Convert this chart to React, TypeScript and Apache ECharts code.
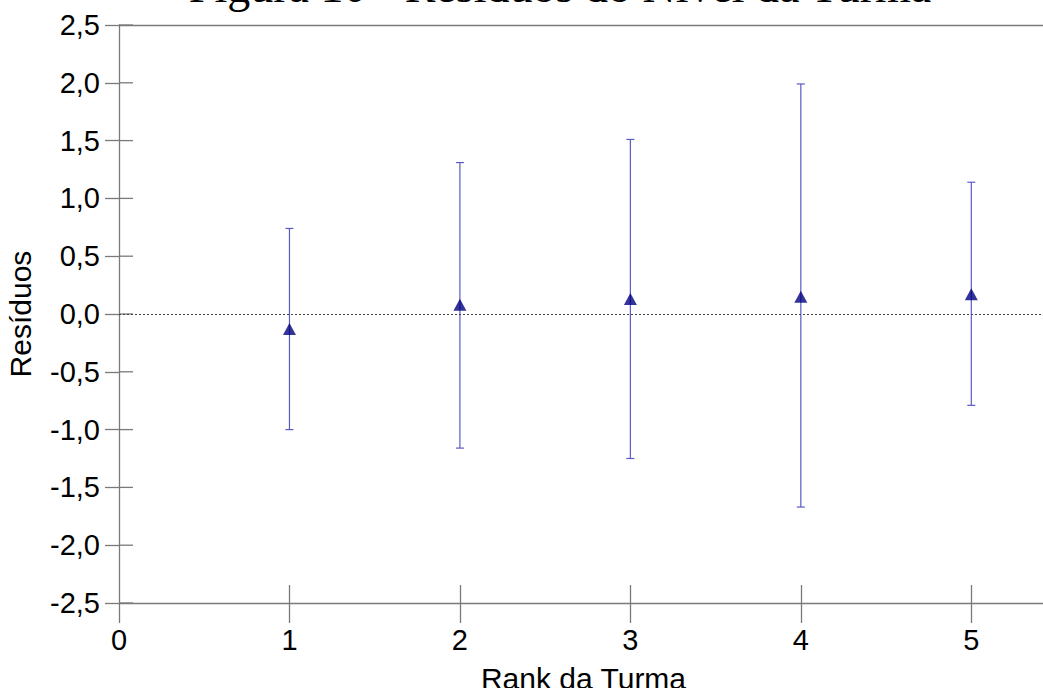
import React, { useEffect, useRef } from "react";
import * as echarts from "echarts";

const ranks = [1, 2, 3, 4, 5];
const residuals = [-0.13, 0.08, 0.13, 0.15, 0.17];
const upper = [0.74, 1.31, 1.51, 1.99, 1.14];
const lower = [-1.0, -1.16, -1.25, -1.67, -0.79];
const xTicks = [0, 1, 2, 3, 4, 5];
const yTicks = [-2.5, -2.0, -1.5, -1.0, -0.5, 0, 0.5, 1.0, 1.5, 2.0, 2.5];
const titleText = "Figura 10 - Resíduos do Nível da Turma";

export default function App() {
  const ref = useRef<HTMLDivElement>(null);
  useEffect(() => {
    document.body.style.margin = "0";
    const chart = echarts.init(ref.current!, null, { renderer: "svg" });
    const font = "'Liberation Sans', Arial, sans-serif";
    const axisColor = "#7a7a7a";
    const errData = ranks.map((r, i) => [r, lower[i], upper[i]]);
    const pts = ranks.map((r, i) => [r, residuals[i]]);
    chart.setOption({
      animation: false,
      backgroundColor: "#ffffff",
      grid: { left: 119, top: 25, bottom: 85, right: -5, containLabel: false, outerBoundsMode: "none" },
      graphic: [
        {
          type: "text",
          x: 560,
          y: 9,
          style: {
            text: titleText,
            fontFamily: "'Liberation Serif', 'Times New Roman', serif",
            fontSize: 46,
            fill: "#000",
            align: "center",
            verticalAlign: "bottom",
          },
        },
      ],
      xAxis: [
        {
          type: "value",
          min: 0,
          max: 5.45,
          interval: 1,
          name: "Rank da Turma",
          nameLocation: "middle",
          nameGap: 60,
          nameTextStyle: { fontFamily: font, fontSize: 30, color: "#000" },
          axisLine: { show: true, onZero: false, lineStyle: { color: axisColor, width: 1.3 } },
          axisTick: { show: true, length: 20, customValues: xTicks, lineStyle: { color: axisColor, width: 1.3 } },
          axisLabel: { customValues: xTicks, margin: 22, fontFamily: font, fontSize: 29, color: "#000" },
          splitLine: { show: false },
        },
        {
          type: "value",
          min: 0,
          max: 5.45,
          interval: 1,
          position: "bottom",
          axisLine: { show: false, onZero: false },
          axisTick: { show: true, inside: true, length: 18, customValues: xTicks.slice(1), lineStyle: { color: axisColor, width: 1.3 } },
          axisLabel: { show: false },
          splitLine: { show: false },
        },
        {
          type: "value",
          min: 0,
          max: 5.45,
          position: "top",
          axisLine: { show: true, onZero: false, lineStyle: { color: axisColor, width: 1.3 } },
          axisTick: { show: false },
          axisLabel: { show: false },
          splitLine: { show: false },
        },
      ],
      yAxis: [
        {
          type: "value",
          min: -2.5,
          max: 2.5,
          interval: 0.5,
          name: "Resíduos",
          nameLocation: "middle",
          nameGap: 84,
          nameTextStyle: { fontFamily: font, fontSize: 30, color: "#000" },
          axisLine: { show: true, onZero: false, lineStyle: { color: axisColor, width: 1.3 } },
          axisTick: { show: true, length: 14, lineStyle: { color: axisColor, width: 1.3 } },
          axisLabel: {
            margin: 19,
            fontFamily: font,
            fontSize: 29,
            color: "#000",
            formatter: (v: number) => v.toFixed(1).replace(".", ","),
          },
          splitLine: { show: false },
        },
      ],
      series: [
        {
          type: "custom",
          xAxisIndex: 0,
          yAxisIndex: 0,
          silent: true,
          clip: false,
          data: yTicks.map((v) => [0, v]),
          renderItem: (params: any, api: any) => {
            const p = api.coord([api.value(0), api.value(1)]);
            return {
              type: "line",
              shape: { x1: p[0], y1: p[1], x2: p[0] + 14, y2: p[1] },
              style: { stroke: axisColor, lineWidth: 1.3 },
            };
          },
          z: 1,
        },
        {
          type: "custom",
          xAxisIndex: 0,
          yAxisIndex: 0,
          data: errData,
          renderItem: (params: any, api: any) => {
            const x = api.value(0);
            const lo = api.coord([x, api.value(1)]);
            const hi = api.coord([x, api.value(2)]);
            const hw = 4;
            const style = { stroke: "#5a5ac4", lineWidth: 1.2 };
            return {
              type: "group",
              children: [
                { type: "line", shape: { x1: hi[0], y1: hi[1], x2: lo[0], y2: lo[1] }, style },
                { type: "line", shape: { x1: hi[0] - hw, y1: hi[1], x2: hi[0] + hw, y2: hi[1] }, style },
                { type: "line", shape: { x1: lo[0] - hw, y1: lo[1], x2: lo[0] + hw, y2: lo[1] }, style },
              ],
            };
          },
          z: 2,
        },
        {
          type: "scatter",
          xAxisIndex: 0,
          yAxisIndex: 0,
          data: pts,
          symbol: "triangle",
          symbolSize: [13, 12],
          itemStyle: { color: "#000080" },
          z: 3,
          markLine: {
            silent: true,
            symbol: "none",
            label: { show: false },
            lineStyle: { color: "#444", type: [2, 2], width: 1 },
            data: [{ yAxis: 0 }],
          },
        },
      ],
    });
    return () => chart.dispose();
  }, []);
  return <div ref={ref} style={{ width: 1043, height: 688 }} />;
}
